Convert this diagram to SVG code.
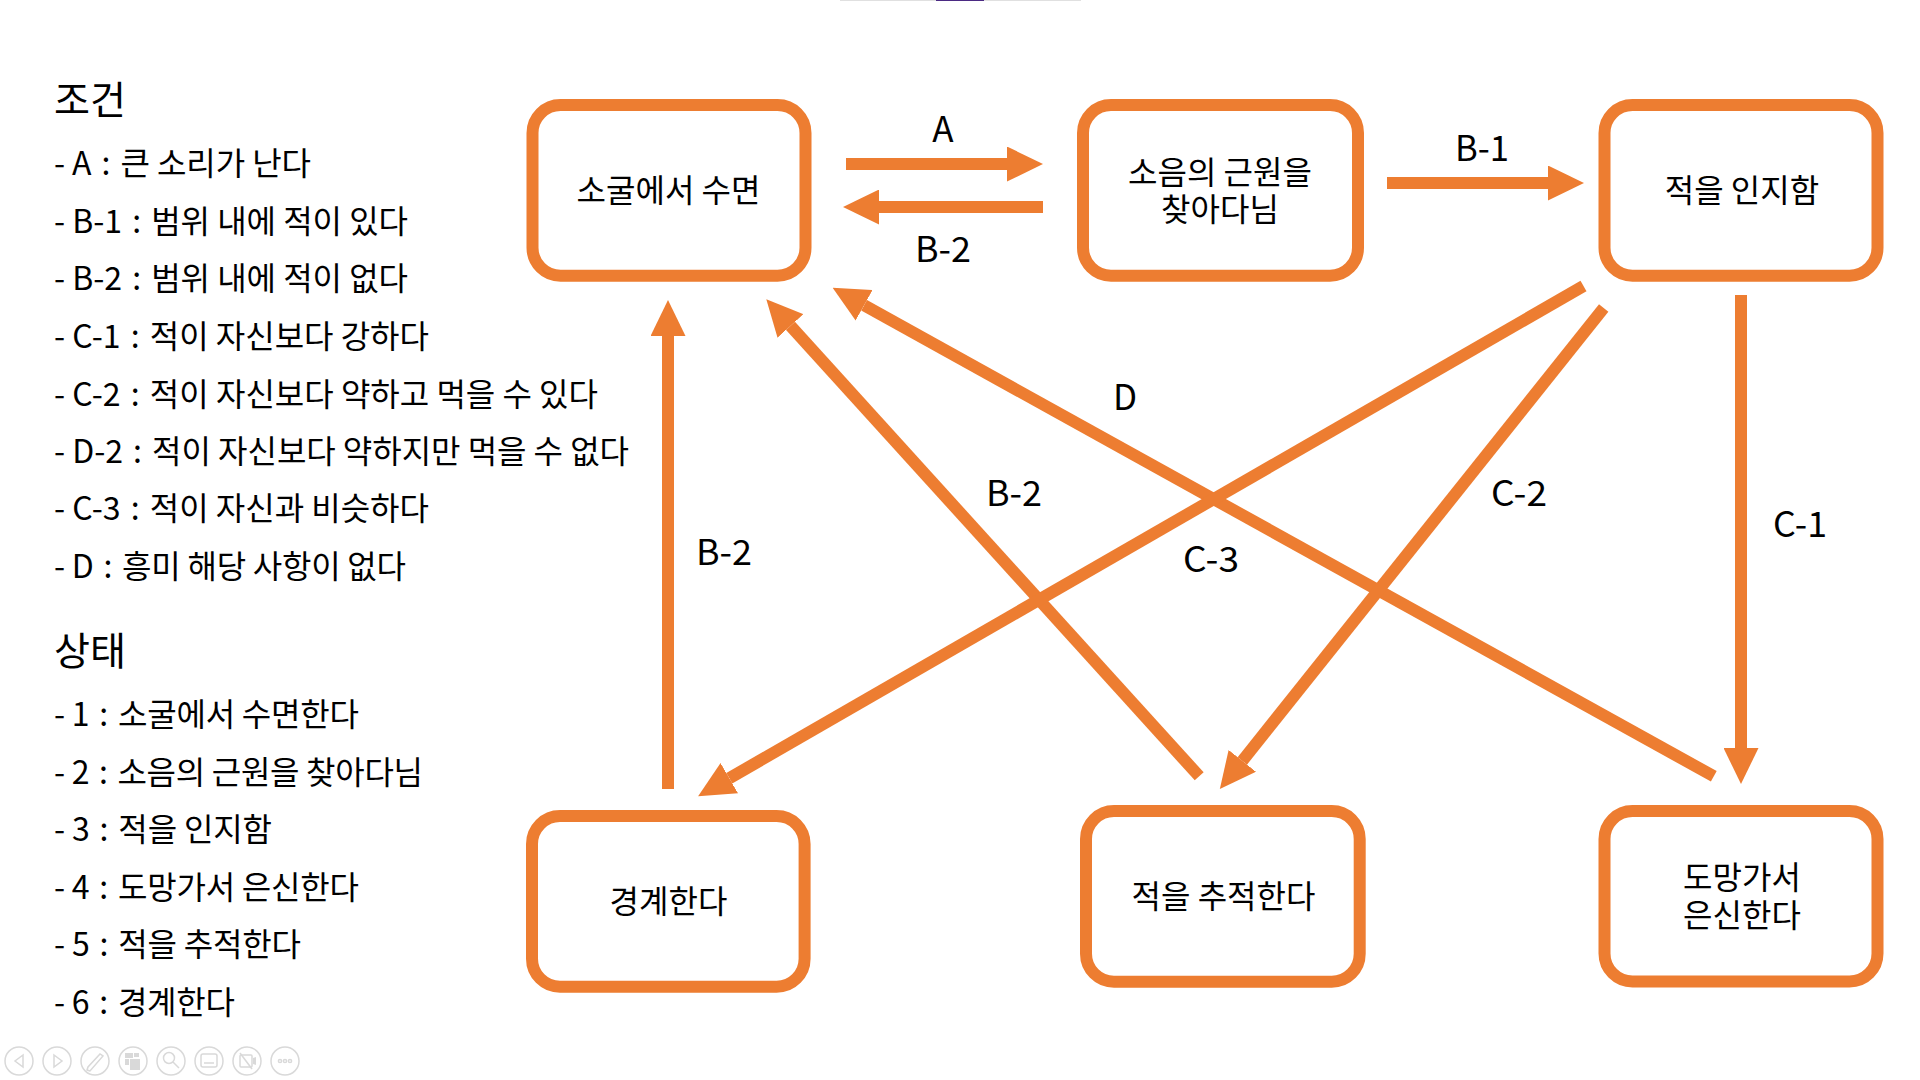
<svg xmlns="http://www.w3.org/2000/svg" width="1920" height="1080" viewBox="0 0 1920 1080">
<style>
text{font-family:"Noto Sans CJK KR","Noto Sans",sans-serif;fill:#000;font-weight:400}
.h{font-size:39px}
.r{font-size:32px}
.n{font-size:32px;text-anchor:middle}
.l{font-size:35px;text-anchor:middle}
.box{fill:#fff;stroke:#ED7D31;stroke-width:12}
.c{fill:none;stroke:#ED7D31;stroke-width:12;marker-end:url(#ah)}
.t{fill:none;stroke:#d9d9d9;stroke-width:1.5}
.g{fill:#d9d9d9;stroke:none}
</style>
<defs>
<marker id="ah" markerUnits="userSpaceOnUse" markerWidth="36" markerHeight="35" refX="0" refY="17.5" orient="auto"><path d="M0 0L36 17.5L0 35Z" fill="#ED7D31"/></marker>
</defs>
<rect width="1920" height="1080" fill="#fff"/>
<g id="progress">
<rect x="840" y="0" width="241" height="1" fill="#e0e0e0"/>
<rect x="936" y="0" width="48" height="1" fill="#4b2a83"/>
</g>
<g id="legend">
<text class="h" x="54" y="114" textLength="72" lengthAdjust="spacingAndGlyphs">조건</text>
<text class="r" x="54" y="175" textLength="257">- A<tspan dx="3"> : </tspan><tspan dx="3">큰 소리가 난다</tspan></text>
<text class="r" x="54" y="232.5" textLength="354">- B-1<tspan dx="3"> : </tspan><tspan dx="3">범위 내에 적이 있다</tspan></text>
<text class="r" x="54" y="290" textLength="354">- B-2<tspan dx="3"> : </tspan><tspan dx="3">범위 내에 적이 없다</tspan></text>
<text class="r" x="54" y="347.5" textLength="375">- C-1<tspan dx="3"> : </tspan><tspan dx="3">적이 자신보다 강하다</tspan></text>
<text class="r" x="54" y="405.5" textLength="544">- C-2<tspan dx="3"> : </tspan><tspan dx="3">적이 자신보다 약하고 먹을 수 있다</tspan></text>
<text class="r" x="54" y="462.5" textLength="575">- D-2<tspan dx="3"> : </tspan><tspan dx="3">적이 자신보다 약하지만 먹을 수 없다</tspan></text>
<text class="r" x="54" y="520" textLength="375">- C-3<tspan dx="3"> : </tspan><tspan dx="3">적이 자신과 비슷하다</tspan></text>
<text class="r" x="54" y="577.5" textLength="352">- D<tspan dx="3"> : </tspan><tspan dx="3">흥미 해당 사항이 없다</tspan></text>
<text class="h" x="54" y="665" textLength="72" lengthAdjust="spacingAndGlyphs">상태</text>
<text class="r" x="54" y="726" textLength="305">- 1<tspan dx="3"> : </tspan><tspan dx="3">소굴에서 수면한다</tspan></text>
<text class="r" x="54" y="783.6" textLength="369">- 2<tspan dx="3"> : </tspan><tspan dx="3">소음의 근원을 찾아다님</tspan></text>
<text class="r" x="54" y="841.2" textLength="218">- 3<tspan dx="3"> : </tspan><tspan dx="3">적을 인지함</tspan></text>
<text class="r" x="54" y="898.8" textLength="305">- 4<tspan dx="3"> : </tspan><tspan dx="3">도망가서 은신한다</tspan></text>
<text class="r" x="54" y="956.4" textLength="247">- 5<tspan dx="3"> : </tspan><tspan dx="3">적을 추적한다</tspan></text>
<text class="r" x="54" y="1014" textLength="181">- 6<tspan dx="3"> : </tspan><tspan dx="3">경계한다</tspan></text>
</g>
<g id="connectors">
<line class="c" x1="846" y1="164" x2="1007" y2="164"/>
<line class="c" x1="1043" y1="207" x2="879" y2="207"/>
<line class="c" x1="1387" y1="183" x2="1548" y2="183"/>
<line class="c" x1="1741" y1="295" x2="1741" y2="748"/>
<line class="c" x1="668" y1="789" x2="668" y2="336"/>
<line class="c" x1="1199.2" y1="776.3" x2="790.5" y2="325.9"/>
<line class="c" x1="1713.8" y1="776.3" x2="864.1" y2="305.3"/>
<line class="c" x1="1583.5" y1="286" x2="729.3" y2="778.2"/>
<line class="c" x1="1603.7" y1="308" x2="1242.3" y2="760.9"/>
</g>
<g id="connector-labels">
<text class="l" x="943" y="142">A</text>
<text class="l" x="943" y="262" textLength="56" lengthAdjust="spacingAndGlyphs">B-2</text>
<text class="l" x="1482" y="161" textLength="54" lengthAdjust="spacingAndGlyphs">B-1</text>
<text class="l" x="1125" y="410">D</text>
<text class="l" x="1014" y="506" textLength="56" lengthAdjust="spacingAndGlyphs">B-2</text>
<text class="l" x="1519" y="506" textLength="56" lengthAdjust="spacingAndGlyphs">C-2</text>
<text class="l" x="1211" y="572" textLength="56" lengthAdjust="spacingAndGlyphs">C-3</text>
<text class="l" x="1800" y="537" textLength="54" lengthAdjust="spacingAndGlyphs">C-1</text>
<text class="l" x="724" y="565" textLength="56" lengthAdjust="spacingAndGlyphs">B-2</text>
</g>
<g id="node-1"><rect class="box" x="532.5" y="105" width="273" height="170.7" rx="28"/><text class="n" x="668.5" y="202">소굴에서 수면</text></g>
<g id="node-2"><rect class="box" x="1083" y="105" width="275" height="170.7" rx="28"/><text class="n"><tspan x="1220" y="184">소음의 근원을</tspan><tspan x="1220" y="221">찾아다님</tspan></text></g>
<g id="node-3"><rect class="box" x="1604.5" y="105" width="273" height="170.7" rx="28"/><text class="n" x="1742" y="202">적을 인지함</text></g>
<g id="node-4"><rect class="box" x="1604.5" y="811" width="273" height="170.5" rx="28"/><text class="n"><tspan x="1742" y="889">도망가서</tspan><tspan x="1742" y="926.5">은신한다</tspan></text></g>
<g id="node-5"><rect class="box" x="1086" y="811" width="273.7" height="170.7" rx="28"/><text class="n" x="1223.5" y="908">적을 추적한다</text></g>
<g id="node-6"><rect class="box" x="532" y="816" width="272.6" height="170.7" rx="28"/><text class="n" x="668.5" y="913">경계한다</text></g>
<g id="toolbar">
<circle class="t" cx="19" cy="1061" r="14"/><path class="t" d="M23 1055L15 1061L23 1067Z"/>
<circle class="t" cx="57" cy="1061" r="14"/><path class="t" d="M54 1055L62 1061L54 1067Z"/>
<circle class="t" cx="95" cy="1061" r="14"/><path class="t" d="M90 1071L87 1070L88 1067L100 1054L103 1056Z"/>
<circle class="t" cx="133" cy="1061" r="14"/><path class="g" d="M125 1053h8v5h-8zM134 1053h5v4h-5zM125 1059h4v6h-4z"/><path class="g" d="M130 1059h10v11h-10z"/>
<circle class="t" cx="171" cy="1061" r="14"/><circle class="t" cx="169" cy="1058" r="5.5"/><path class="t" d="M173 1062L179 1068"/>
<circle class="t" cx="209" cy="1061" r="14"/><rect class="t" x="201" y="1054" width="16" height="13" rx="2"/><path class="t" d="M204 1063h10"/>
<circle class="t" cx="247" cy="1061" r="14"/><rect class="t" x="240" y="1055" width="12" height="12" rx="1"/><path class="g" d="M253 1058l3-1v8l-3-1z"/><path class="t" d="M240 1053L252 1069"/>
<circle class="t" cx="285" cy="1061" r="14"/><circle class="t" cx="280" cy="1061" r="1.6"/><circle class="t" cx="285" cy="1061" r="1.6"/><circle class="t" cx="290" cy="1061" r="1.6"/>
</g>
</svg>
